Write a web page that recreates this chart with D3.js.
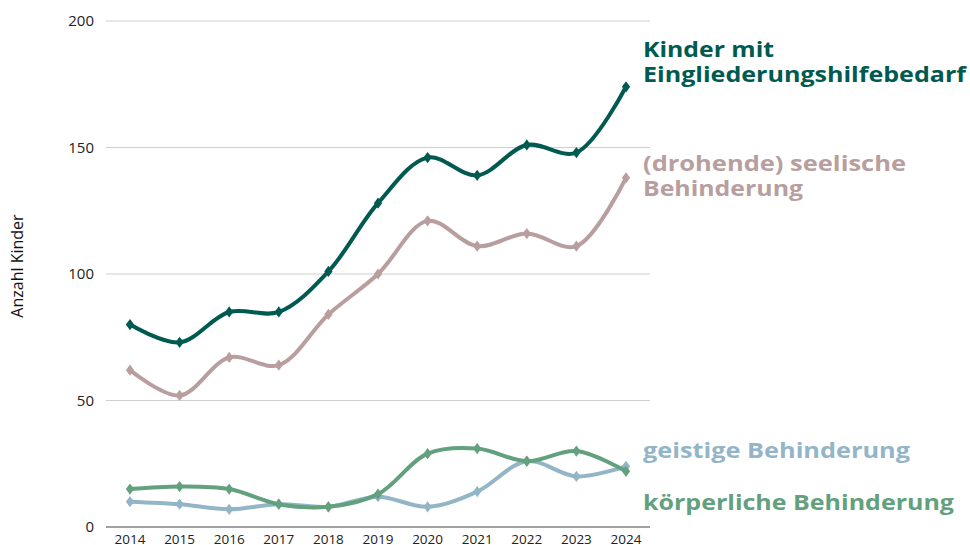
<!DOCTYPE html>
<html><head><meta charset="utf-8">
<script src="https://cdn.jsdelivr.net/npm/d3@7"></script>
<style>body{margin:0;background:#fff}svg{display:block}</style>
</head><body><svg id="c" width="970" height="545"></svg>
<script>
const years = [2014,2015,2016,2017,2018,2019,2020,2021,2022,2023,2024];
const total = [80,73,85,85,101,128,146,139,151,148,174];
const seelisch = [62,52,67,64,84,100,121,111,116,111,138];
const geistig = [10,9,7,9,8,12,8,14,26,20,24];
const koerperlich = [15,16,15,9,8,13,29,31,26,30,22];
const yTicks = [0,50,100,150,200];
const seriesNames = [["Kinder mit","Eingliederungshilfebedarf"],["(drohende) seelische","Behinderung"],["geistige Behinderung"],["körperliche Behinderung"]];

const colors = ["#005a50","#b89e9e","#93b5c8","#63a07e"];
const svg = d3.select("#c");
const x = d3.scalePoint().domain(years).range([130,626]);
const y = d3.scaleLinear().domain([0,200]).range([527,21]);
const font = "'Open Sans', Lato, sans-serif";

// grid
svg.append("g").selectAll("line").data(yTicks).join("line")
  .attr("x1",106).attr("x2",650).attr("y1",d=>y(d)).attr("y2",d=>y(d))
  .attr("stroke",d=>d===0?"#444":"#cfcfcf").attr("stroke-width",1);
// y ticks
svg.append("g").selectAll("text").data(yTicks).join("text")
  .attr("x",94).attr("y",d=>y(d)+5).attr("text-anchor","end")
  .attr("font-family",font).attr("font-size",15).attr("fill","#222").text(d=>d);
// x ticks
svg.append("g").selectAll("text").data(years).join("text")
  .attr("x",d=>x(d)).attr("y",544).attr("text-anchor","middle")
  .attr("font-family",font).attr("font-size",13.5).attr("fill","#222").text(d=>d);
// axis title
svg.append("text").attr("transform","translate(23,266) rotate(-90)")
  .attr("text-anchor","middle").attr("font-family",font).attr("font-size",16).attr("fill","#111").text("Anzahl Kinder");

const all = [total,seelisch,geistig,koerperlich];
const line = d3.line().x((d,i)=>x(years[i])).y(d=>y(d)).curve(d3.curveCatmullRom.alpha(0.5));
const order = [1,0,2,3];
order.forEach(k=>{
  const vals = all[k];
  svg.append("path").attr("d",line(vals)).attr("fill","none")
    .attr("stroke",colors[k]).attr("stroke-width",4).attr("stroke-linecap","round");
  svg.append("g").selectAll("path").data(vals).join("path")
    .attr("d",d3.symbol(d3.symbolDiamond,45)())
    .attr("transform",(d,i)=>`translate(${x(years[i])},${y(d)}) scale(1.15,0.9)`)
    .attr("fill",colors[k]);
});

// labels (one text element per series, lines as tspans)
const labPos = [57,171,458,510];
const labW = [[131,323],[263,160],[267],[311]];
seriesNames.forEach((lines,k)=>{
  const t = svg.append("text").attr("x",643).attr("y",labPos[k])
    .attr("font-family",font).attr("font-weight","bold").attr("font-size",22)
    .attr("fill",colors[k]);
  lines.forEach((s,j)=>{
    t.append("tspan").attr("x",643).attr("dy",j===0?0:25)
      .attr("textLength",labW[k][j]).attr("lengthAdjust","spacingAndGlyphs").text(s);
  });
});
</script></body></html>
